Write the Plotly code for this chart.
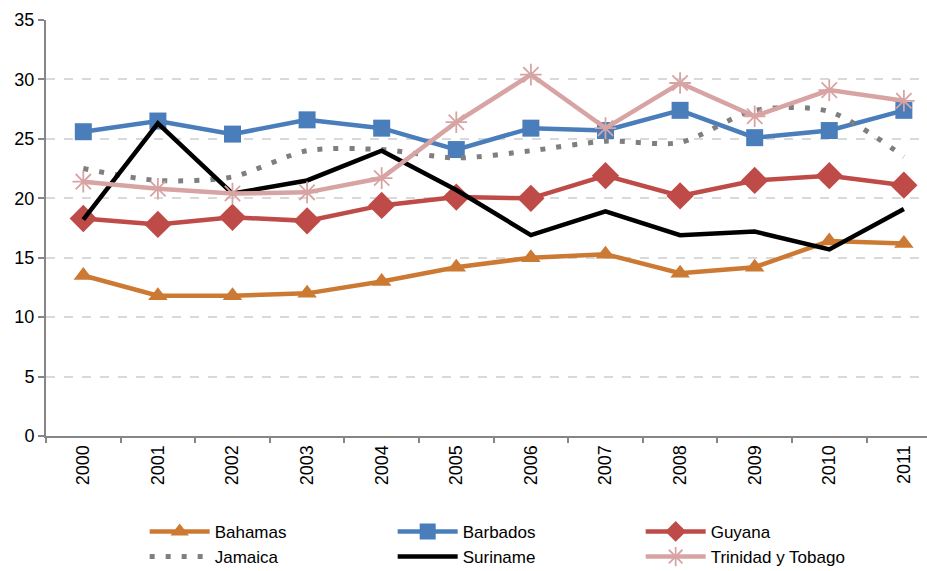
import plotly.graph_objects as go

years = [str(y) for y in range(2000, 2012)]
bahamas = [13.5, 11.8, 11.8, 12.0, 13.0, 14.2, 15.0, 15.3, 13.7, 14.2, 16.4, 16.2]
barbados = [25.6, 26.5, 25.4, 26.6, 25.9, 24.1, 25.9, 25.7, 27.4, 25.1, 25.7, 27.4]
guyana = [18.3, 17.8, 18.4, 18.1, 19.4, 20.1, 20.0, 21.9, 20.2, 21.5, 21.9, 21.1]
jamaica = [22.5, 21.5, 21.8, 24.0, 24.1, 23.4, 24.0, 24.8, 24.7, 27.4, 27.3, 23.5]
suriname = [18.2, 26.3, 20.4, 21.5, 24.0, 20.7, 16.9, 18.9, 16.9, 17.2, 15.7, 19.1]
trinidad = [21.4, 20.8, 20.4, 20.5, 21.7, 26.4, 30.4, 25.9, 29.7, 26.9, 29.1, 28.2]

fig = go.Figure()
fig.add_trace(go.Scatter(x=years, y=bahamas, name="Bahamas", mode="lines+markers",
                         line=dict(color="#CC7A33", width=4.5),
                         marker=dict(symbol="triangle-up", size=17, color="#CC7A33")))
fig.add_trace(go.Scatter(x=years, y=barbados, name="Barbados", mode="lines+markers",
                         line=dict(color="#4A7EBB", width=4.5),
                         marker=dict(symbol="square", size=17, color="#4A7EBB")))
fig.add_trace(go.Scatter(x=years, y=guyana, name="Guyana", mode="lines+markers",
                         line=dict(color="#BE4B48", width=4.5),
                         marker=dict(symbol="diamond", size=21, color="#BE4B48")))
fig.add_trace(go.Scatter(x=years, y=jamaica, name="Jamaica", mode="lines",
                         line=dict(color="#7F7F7F", width=5, dash="5px,11px",
                                   shape="spline", smoothing=0.8)))
fig.add_trace(go.Scatter(x=years, y=suriname, name="Suriname", mode="lines",
                         line=dict(color="#000000", width=4.5)))
fig.add_trace(go.Scatter(x=years, y=trinidad, name="Trinidad y Tobago", mode="lines+markers",
                         line=dict(color="#D7A4A3", width=4.5),
                         marker=dict(symbol="asterisk-open", size=18,
                                     line=dict(color="#D7A4A3", width=1.8))))

fig.update_layout(
    width=927, height=571,
    margin=dict(l=46, r=0, t=20, b=135),
    plot_bgcolor="white", paper_bgcolor="white",
    font=dict(family="Liberation Sans, Arial, sans-serif", size=17, color="#000000"),
    showlegend=True,
    legend=dict(orientation="h", x=0.112, y=0.1, xref="paper", yref="container",
                xanchor="left", yanchor="top",
                entrywidth=173, entrywidthmode="pixels",
                font=dict(size=17), tracegroupgap=0, itemwidth=60),
    xaxis=dict(type="category", range=[-0.5, 11.31], tickson="boundaries",
               ticks="outside", ticklen=5, tickcolor="#868686", tickwidth=2,
               showline=True, linecolor="#868686", linewidth=2,
               showgrid=False, tickangle=-90, tickfont=dict(size=18)),
    yaxis=dict(range=[0, 35], dtick=5, ticks="outside", ticklen=6, tickcolor="#868686",
               tickwidth=2,
               showline=True, linecolor="#868686", linewidth=2,
               gridcolor="#D9D9D9", griddash="dash", gridwidth=2,
               zeroline=False, tickfont=dict(size=18)),
)

fig.write_html("out.html")
